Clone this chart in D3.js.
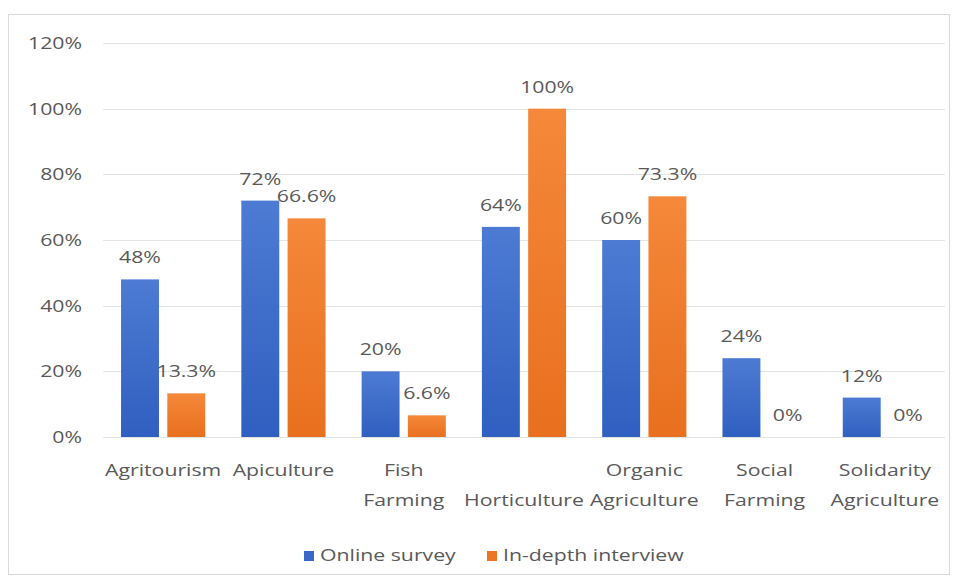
<!DOCTYPE html>
<html>
<head>
<meta charset="utf-8">
<script src="https://cdn.jsdelivr.net/npm/d3@7"></script>
<style>
  body { margin: 0; background: #fff; }
  text { font-family: "Open Sans", "Noto Sans", sans-serif; fill: #595959; font-size: 17px; }
</style>
</head>
<body>
<script>
// data
var categories = ["Agritourism", "Apiculture", "Fish Farming", "Horticulture", "Organic Agriculture", "Social Farming", "Solidarity Agriculture"];
// label lines per category (Excel wraps these)
var catLines = [["Agritourism"], ["Apiculture"], ["Fish", "Farming"], ["", "Horticulture"], ["Organic", "Agriculture"], ["Social", "Farming"], ["Solidarity", "Agriculture"]];
var seriesNames = ["Online survey", "In-depth interview"];
var onlineSurvey = [48, 72, 20, 64, 60, 24, 12];
var inDepth = [13.3, 66.6, 6.6, 100, 73.3, 0, 0];
var onlineLabels = ["48%", "72%", "20%", "64%", "60%", "24%", "12%"];
var inDepthLabels = ["13.3%", "66.6%", "6.6%", "100%", "73.3%", "0%", "0%"];
var yTicks = [0, 20, 40, 60, 80, 100, 120];

var width = 955, height = 582;
var left = 103, right = 945;
var sx = 1.25; // the original picture is stretched sideways

var svg = d3.select("body").append("svg")
  .attr("width", width)
  .attr("height", height);

// write a stretched text label
function label(g, x, y, str, anchor) {
  return g.append("text")
    .attr("transform", "translate(" + x + "," + y + ") scale(" + sx + ",1)")
    .attr("dy", "0.35em")
    .attr("text-anchor", anchor || "middle")
    .text(str);
}

// gradients like the Excel fill
var defs = svg.append("defs");
function grad(id, c1, c2) {
  var g = defs.append("linearGradient").attr("id", id)
    .attr("x1", 0).attr("y1", 0).attr("x2", 0).attr("y2", 1);
  g.append("stop").attr("offset", "0%").attr("stop-color", c1);
  g.append("stop").attr("offset", "100%").attr("stop-color", c2);
}
grad("gBlue", "#4d7bd3", "#2f5fc0");
grad("gOrange", "#f5883a", "#e8701e");
var fills = ["url(#gBlue)", "url(#gOrange)"];

// chart border
svg.append("rect")
  .attr("x", 8.5).attr("y", 14.5)
  .attr("width", 941).attr("height", 560)
  .attr("fill", "none")
  .attr("stroke", "#d9d9d9");

var x = d3.scaleBand()
  .domain(categories)
  .range([left, right])
  .paddingInner(0.3)
  .paddingOuter(0.15);

var xs = d3.scaleBand()
  .domain(seriesNames)
  .range([0, x.bandwidth()])
  .paddingInner(0.18);

var y = d3.scaleLinear()
  .domain([0, 120])
  .range([437, 43]);

// gridlines
svg.append("g")
  .selectAll("line")
  .data(yTicks)
  .enter().append("line")
  .attr("x1", left)
  .attr("x2", right)
  .attr("y1", d => Math.round(y(d)) + 0.5)
  .attr("y2", d => Math.round(y(d)) + 0.5)
  .attr("stroke", "#e3e3e3")
  .attr("stroke-width", 1);

// y labels
var yg = svg.append("g");
yTicks.forEach(function (t) {
  label(yg, 82, y(t), t + "%", "end");
});

var rows = categories.map(function (c, i) {
  return { cat: c, vals: [onlineSurvey[i], inDepth[i]], labels: [onlineLabels[i], inDepthLabels[i]] };
});

var groups = svg.append("g")
  .selectAll("g")
  .data(rows)
  .enter().append("g")
  .attr("transform", d => "translate(" + x(d.cat) + ",0)");

groups.selectAll("rect")
  .data(d => d.vals.map((v, j) => ({ v: v, s: seriesNames[j], j: j })))
  .enter().append("rect")
  .attr("x", d => xs(d.s))
  .attr("y", d => y(d.v))
  .attr("width", xs.bandwidth())
  .attr("height", d => y(0) - y(d.v))
  .attr("fill", d => fills[d.j]);

groups.each(function (d) {
  var g = d3.select(this);
  d.vals.forEach(function (v, j) {
    label(g, xs(seriesNames[j]) + xs.bandwidth() / 2, y(v) - 22, d.labels[j]);
  });
});

// category labels
var catG = svg.append("g");
catLines.forEach(function (lines, i) {
  var cx = x(categories[i]) + x.bandwidth() / 2;
  lines.forEach(function (ln, k) {
    label(catG, cx, 470 + k * 30, ln);
  });
});

// legend
var legendX = [304, 487];
var legendCol = ["#3a68c9", "#ee7524"];
var leg = svg.append("g");
seriesNames.forEach(function (s, j) {
  leg.append("rect")
    .attr("x", legendX[j]).attr("y", 551)
    .attr("width", 10).attr("height", 10)
    .attr("fill", legendCol[j]);
  label(leg, legendX[j] + 16, 555, s, "start");
});
</script>
</body>
</html>
